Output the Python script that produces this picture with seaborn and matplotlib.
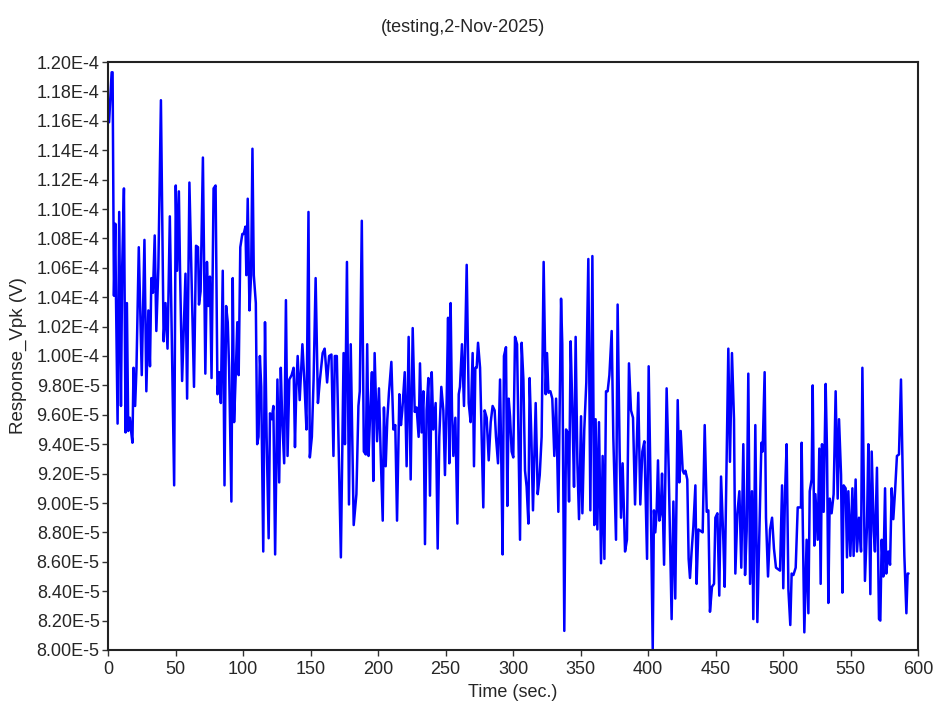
import numpy as np
import pandas as pd
import seaborn as sns
import matplotlib
matplotlib.use("Agg")
import matplotlib.pyplot as plt

# time stamps (sec.) and response readings (in 1e-6 V)
time_s = [
    0.8, 2.7, 3.4, 4.4, 5.4, 5.9, 7.1, 8.3, 9.6, 10.5, 11.8, 13.0, 14.0, 15.0, 16.2, 17.1, 18.1, 18.9, 20.1, 21.1,
    22.8, 25.0, 27.0, 28.4, 29.9, 31.1, 32.1, 33.3, 34.6, 35.8, 37.3, 39.2, 41.2, 42.6, 44.1, 45.8, 47.5, 49.0, 50.2, 51.2,
    52.5, 53.4, 54.9, 57.4, 58.6, 60.3, 61.8, 63.7, 65.2, 66.7, 67.4, 68.6, 70.3, 72.1, 73.3, 74.3, 75.5, 76.7, 78.2, 79.7,
    81.1, 82.4, 83.6, 85.0, 86.3, 87.5, 88.7, 89.7, 91.4, 92.4, 93.4, 94.6, 95.8, 96.8, 98.0, 99.5,
    100.5, 101.8, 102.5, 103.5, 104.8, 106.0, 107.0, 108.0, 109.5, 110.5, 111.5, 112.5, 113.5, 115.0, 116.3, 117.5, 119.0, 120.0,
    121.3, 122.5, 123.8, 125.5, 126.8, 128.0, 129.0, 130.5, 131.8, 133.0, 134.3, 136.0, 137.5, 138.5, 139.5, 140.5, 142.0, 144.0,
    145.5, 147.0, 148.5, 149.5, 151.0, 152.3, 153.8, 155.5, 157.0, 159.0, 160.5, 162.3, 163.8, 165.5, 167.0, 168.0, 169.5, 172.5,
    174.5, 175.5, 177.0, 178.5, 179.8, 182.0, 184.0, 185.5, 186.5, 188.0, 189.5, 191.0, 192.0, 193.0, 194.3, 195.5, 196.5, 197.5,
    199.3,
    200.7, 202.0, 203.5, 204.4, 205.7, 206.9, 208.1, 209.9, 211.4, 212.8, 214.1, 215.8, 217.0, 218.0, 219.8, 221.2, 222.7, 224.2,
    225.7, 227.2, 228.6, 230.1, 231.1, 232.3, 233.6, 234.8, 236.0, 237.3, 238.5, 239.8, 241.0, 242.7, 244.2, 245.4, 246.9, 248.4,
    249.6, 250.9, 251.9, 252.8, 253.8, 254.8, 255.8, 257.3, 258.8, 259.8, 260.7, 262.2, 263.7, 265.7, 267.2, 268.6, 270.1, 271.1,
    272.1, 273.1, 274.1, 275.6, 278.0, 279.0, 280.5, 282.0, 283.5, 284.9, 286.4, 287.4, 288.9, 290.4, 291.4, 292.3, 293.3, 294.8,
    295.8, 296.8, 297.8, 299.0,
    300.2, 301.5, 303.0, 305.2, 306.4, 307.7, 308.9, 310.1, 311.4, 312.3, 313.6, 314.8, 316.8, 318.3, 319.8, 321.2, 322.7, 324.2,
    325.2, 326.2, 327.7, 329.1, 330.6, 331.9, 333.6, 335.6, 336.5, 338.0, 339.3, 340.5, 341.5, 342.7, 344.0, 345.2, 346.4, 347.7,
    348.9, 350.4, 351.4, 352.8, 354.3, 355.8, 357.3, 358.8, 360.2, 361.2, 362.5, 363.7, 365.2, 366.4, 367.7, 368.9, 370.1, 371.4,
    373.1, 374.3, 376.3, 377.5, 379.0, 380.0, 381.2, 383.0, 384.4, 385.9, 387.4, 388.9, 390.4, 391.9, 392.8, 394.3, 395.8, 397.3,
    399.3,
    400.5, 402.0, 403.5, 404.4, 405.4, 406.4, 407.4, 408.4, 409.4, 410.4, 411.9, 413.8, 415.3, 417.5, 418.8, 420.2, 422.0, 423.2,
    424.2, 425.7, 426.7, 427.7, 429.1, 430.1, 431.1, 432.3, 433.6, 435.1, 436.0, 437.3, 439.0, 440.5, 442.0, 443.5, 444.7, 445.9,
    447.4, 448.9, 449.9, 451.4, 452.8, 454.1, 455.8, 456.8, 458.3, 459.5, 460.7, 462.2, 463.7, 464.7, 466.2, 467.7, 469.1, 470.6,
    471.9, 473.1, 474.3, 475.6, 477.0, 478.0, 479.5, 481.0, 482.5, 484.0, 484.9, 486.4, 487.4, 488.9, 490.4, 491.9, 493.3, 494.8,
    496.3, 497.8, 499.3, 500.2,
    501.5, 502.7, 504.0, 505.4, 506.4, 507.7, 509.4, 510.9, 513.3, 513.8, 515.8, 517.5, 518.8, 519.8, 521.2, 522.0, 523.2, 524.0,
    525.7, 526.9, 527.9, 528.9, 530.1, 531.6, 532.6, 533.6, 534.6, 536.0, 537.5, 539.0, 540.5, 541.5, 543.0, 544.0, 544.9, 546.4,
    547.4, 548.4, 549.9, 551.4, 552.3, 553.8, 554.8, 556.3, 557.8, 558.8, 560.7, 562.2, 563.2, 564.7, 565.7, 567.2, 568.1, 569.6,
    571.1, 572.1, 573.1, 574.3, 575.6, 576.5, 578.0, 579.3, 580.5, 581.7, 583.0, 584.4, 585.9, 587.4, 588.9, 589.9, 591.4, 592.3,
    593.0,
]

resp_e6 = [
    115.9, 119.3, 119.3, 104.1, 109.0, 104.1, 95.4, 109.8, 96.6, 106.0, 111.4, 94.8, 103.6, 94.9, 95.8, 94.9, 94.1, 99.2, 96.6, 99.2,
    107.4, 98.7, 107.9, 97.6, 103.1, 99.3, 105.3, 104.3, 108.2, 101.7, 106.0, 117.4, 101.0, 103.6, 100.5, 109.5, 99.7, 91.2, 111.6, 105.8,
    111.2, 105.6, 98.3, 105.6, 97.1, 111.8, 105.6, 97.9, 107.5, 107.4, 103.5, 104.4, 113.5, 98.8, 106.4, 103.4, 105.4, 98.5, 111.4, 111.6,
    97.4, 98.9, 96.8, 105.8, 91.2, 103.4, 102.3, 99.2, 90.1, 105.3, 95.5, 98.7, 102.3, 98.7, 107.4, 108.3,
    108.3, 108.8, 105.5, 110.7, 103.1, 105.5, 114.1, 105.5, 103.6, 94.0, 94.5, 100.0, 97.9, 86.7, 102.3, 94.5, 87.6, 96.1,
    95.7, 96.6, 86.5, 98.4, 91.4, 99.2, 95.8, 92.7, 103.8, 93.2, 98.4, 98.7, 99.2, 93.8, 97.9, 100.0, 97.0, 100.8,
    98.2, 95.0, 109.8, 93.1, 94.5, 98.4, 105.3, 96.8, 98.4, 100.2, 100.5, 98.2, 100.0, 100.1, 93.2, 100.0, 100.0, 86.3,
    100.2, 94.0, 106.4, 89.9, 100.8, 88.5, 90.6, 96.6, 97.6, 109.2, 93.5, 93.3, 100.8, 93.2, 96.3, 98.9, 91.5, 100.2,
    94.2,
    97.8, 93.3, 88.8, 96.5, 92.5, 95.7, 97.5, 99.6, 95.0, 95.3, 88.8, 97.4, 95.3, 96.3, 98.9, 92.5, 101.3, 91.6,
    101.9, 96.2, 96.5, 94.5, 99.5, 94.8, 97.6, 87.2, 96.3, 98.5, 90.5, 98.9, 95.0, 96.8, 86.9, 94.5, 97.9, 96.3,
    91.9, 97.1, 102.6, 92.7, 103.6, 96.3, 93.2, 95.8, 88.6, 97.4, 97.9, 100.8, 96.6, 106.2, 96.8, 95.5, 100.2, 92.5,
    99.2, 99.2, 100.9, 99.2, 89.7, 96.3, 95.8, 92.9, 95.5, 96.6, 96.3, 94.5, 92.7, 98.4, 92.4, 86.5, 100.0, 100.6,
    89.8, 97.1, 95.9, 93.5,
    93.1, 101.3, 100.8, 87.5, 100.9, 98.4, 92.2, 91.1, 88.6, 98.5, 94.5, 89.5, 96.8, 90.6, 91.9, 94.5, 106.4, 97.4,
    100.2, 97.5, 97.6, 97.1, 93.2, 97.1, 89.4, 103.9, 100.8, 81.3, 95.0, 94.8, 90.1, 101.0, 96.3, 91.1, 101.3, 92.7,
    88.9, 95.9, 89.3, 95.0, 98.2, 106.6, 89.5, 106.8, 88.5, 95.7, 88.2, 95.5, 85.9, 93.2, 86.2, 97.6, 97.6, 98.7,
    101.7, 94.5, 87.5, 103.5, 93.5, 89.0, 92.7, 86.7, 87.5, 99.5, 96.3, 95.8, 89.9, 94.5, 97.5, 89.9, 93.5, 94.2,
    86.2,
    99.3, 90.6, 80.0, 89.5, 88.0, 89.4, 92.9, 88.8, 89.3, 92.0, 85.8, 97.8, 92.4, 82.1, 90.1, 83.5, 97.0, 91.4,
    94.9, 92.2, 92.0, 92.2, 91.6, 86.2, 84.9, 86.7, 88.4, 91.2, 84.5, 88.2, 88.1, 88.0, 95.3, 89.4, 89.5, 82.6,
    84.3, 84.5, 89.0, 89.3, 83.7, 91.8, 87.5, 84.3, 93.1, 100.5, 92.8, 100.2, 95.7, 85.2, 89.3, 90.8, 85.6, 94.0,
    85.1, 88.1, 98.8, 84.5, 90.8, 82.1, 95.3, 81.9, 88.0, 94.1, 93.5, 98.9, 89.0, 85.0, 88.2, 89.0, 86.9, 85.6,
    85.5, 85.4, 91.2, 84.2,
    90.7, 94.0, 84.1, 81.7, 85.2, 85.1, 85.6, 89.7, 89.7, 94.1, 81.2, 87.5, 82.5, 90.8, 91.6, 98.0, 87.1, 90.6,
    87.5, 93.7, 84.5, 94.0, 89.4, 98.1, 93.5, 83.2, 90.3, 89.3, 90.6, 97.6, 90.3, 95.7, 91.9, 83.9, 91.2, 91.0,
    86.3, 90.8, 86.4, 91.0, 86.4, 91.6, 86.7, 89.0, 86.7, 99.2, 84.7, 88.4, 94.0, 83.8, 93.5, 88.1, 86.7, 92.4,
    82.1, 82.0, 87.5, 85.0, 91.0, 85.2, 86.7, 85.8, 91.0, 88.9, 90.8, 93.2, 93.3, 98.4, 90.8, 86.4, 82.5, 85.2,
    85.2,
]

x_ticks = list(range(0, 601, 50))
y_ticks_e6 = list(range(80, 121, 2))
y_tick_labels = [f"{k / 100:.2f}E-4" if k >= 100 else f"{k / 10:.2f}E-5" for k in y_ticks_e6]

df = pd.DataFrame({"Time (sec.)": time_s, "Response_Vpk (V)": np.array(resp_e6) * 1e-6})

sns.set_style("ticks")
plt.rcParams["font.family"] = ["Liberation Sans", "DejaVu Sans"]

fig = plt.figure(figsize=(9.36, 7.04), dpi=100)
ax = fig.add_axes([108 / 936, 1 - 650 / 704, 810 / 936, 588 / 704])

sns.lineplot(data=df, x="Time (sec.)", y="Response_Vpk (V)", ax=ax,
             color="#0000ff", lw=1.8, estimator=None, sort=False)

ax.set_xlim(0, 600)
ax.set_ylim(8.0e-5, 1.2e-4)
ax.set_xticks(x_ticks)
ax.set_xticklabels([str(t) for t in x_ticks])
ax.set_yticks([k * 1e-6 for k in y_ticks_e6])
ax.set_yticklabels(y_tick_labels)
ax.tick_params(axis="both", labelsize=13, length=4, width=1, color="#333333", pad=2)
ax.tick_params(axis="x", pad=4)

for sp in ax.spines.values():
    sp.set_linewidth(1.5)
    sp.set_color("#222222")

ax.set_xlabel("Time (sec.)", fontsize=13, labelpad=4)
ax.set_ylabel("Response_Vpk (V)", fontsize=13.5)
ax.yaxis.set_label_coords(-0.1, 0.5)
fig.suptitle("(testing,2-Nov-2025)", x=0.495, y=1 - 27 / 704, fontsize=13, va="center")

fig.savefig("out.png", dpi=100)
plt.close(fig)
